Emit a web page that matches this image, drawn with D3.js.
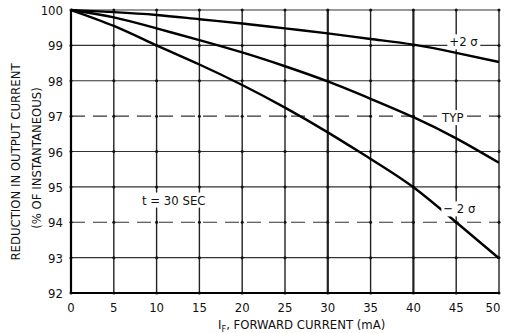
<!DOCTYPE html>
<html>
<head>
<meta charset="utf-8">
<script src="https://cdn.jsdelivr.net/npm/d3@7"></script>
<style>
  html, body { margin: 0; padding: 0; background: #fff; }
  text { font-family: "Liberation Sans Narrow", "DejaVu Sans Condensed", "Roboto Condensed", sans-serif; fill: #111; }
</style>
</head>
<body>
<div id="canvas"></div>
<script>
// forward current (mA)
const current = [0, 5, 10, 15, 20, 25, 30, 35, 40, 45, 50];
// reduction in output current (% of instantaneous)
const plus2Sigma  = [100, 99.94, 99.86, 99.74, 99.62, 99.48, 99.34, 99.18, 99.02, 98.79, 98.53];
const typical     = [100, 99.79, 99.48, 99.15, 98.80, 98.41, 97.98, 97.49, 96.97, 96.37, 95.68];
const minus2Sigma = [100, 99.55, 99.00, 98.46, 97.88, 97.24, 96.54, 95.79, 94.99, 94.00, 92.98];

const xTicks = [0, 5, 10, 15, 20, 25, 30, 35, 40, 45, 50];
const yTicks = [92, 93, 94, 95, 96, 97, 98, 99, 100];
const dashedRows = [97, 94];
const heavyCols = [30, 40];

const W = 505, H = 333;
const margin = {top: 10, right: 6, bottom: 40, left: 71};
const width = W - margin.left - margin.right;
const height = H - margin.top - margin.bottom;

const svg = d3.select("#canvas").append("svg")
    .attr("width", W)
    .attr("height", H);

const g = svg.append("g")
    .attr("transform", "translate(" + margin.left + "," + margin.top + ")");

const x = d3.scaleLinear().domain([0, 50]).range([0, width]);
const y = d3.scaleLinear().domain([92, 100]).range([height, 0]);

// horizontal grid
g.append("g").selectAll("line")
    .data(yTicks.filter(d => d > 92))
    .enter().append("line")
    .attr("x1", 0).attr("x2", width)
    .attr("y1", d => y(d)).attr("y2", d => y(d))
    .attr("stroke", "#333")
    .attr("stroke-width", 1.1)
    .attr("stroke-dasharray", d => dashedRows.includes(d) ? "14,8" : null);

// vertical grid
g.append("g").selectAll("line")
    .data(xTicks.filter(d => d > 0))
    .enter().append("line")
    .attr("x1", d => x(d)).attr("x2", d => x(d))
    .attr("y1", 0).attr("y2", height)
    .attr("stroke", "#222")
    .attr("stroke-width", d => heavyCols.includes(d) ? 2.2 : 1.4);

// little dots at grid crossings
const crossings = [];
xTicks.forEach(a => yTicks.forEach(b => crossings.push([a, b])));
g.append("g").selectAll("circle")
    .data(crossings)
    .enter().append("circle")
    .attr("cx", d => x(d[0]))
    .attr("cy", d => y(d[1]))
    .attr("r", 1.5)
    .attr("fill", "#111");

// axes (left / bottom heavy)
g.append("line")
    .attr("x1", 0).attr("x2", 0).attr("y1", 0).attr("y2", height)
    .attr("stroke", "#000").attr("stroke-width", 2.2);
g.append("line")
    .attr("x1", 0).attr("x2", width).attr("y1", height).attr("y2", height)
    .attr("stroke", "#000").attr("stroke-width", 2.2);

// curves
const line = d3.line()
    .x(d => x(d[0]))
    .y(d => y(d[1]))
    .curve(d3.curveNatural);

[plus2Sigma, typical, minus2Sigma].forEach(series => {
    g.append("path")
        .datum(current.map((c, i) => [c, series[i]]))
        .attr("fill", "none")
        .attr("stroke", "#000")
        .attr("stroke-width", 2.4)
        .attr("d", line);
});

// tick labels
g.append("g").selectAll("text")
    .data(yTicks)
    .enter().append("text")
    .attr("x", -8)
    .attr("y", d => y(d) + 5)
    .attr("text-anchor", "end")
    .attr("font-size", "13px")
    .text(d => d);

g.append("g").selectAll("text")
    .data(xTicks)
    .enter().append("text")
    .attr("x", d => x(d) - (d === 50 ? 6 : 0))
    .attr("y", height + 19)
    .attr("text-anchor", "middle")
    .attr("font-size", "13px")
    .text(d => d);

// labels on the curves
function label(txt, cx, cy, anchor) {
    let t = g.append("text")
        .attr("x", cx).attr("y", cy)
        .attr("text-anchor", anchor)
        .attr("font-size", "13px")
        .text(txt);
    let bb = t.node().getBBox();
    g.insert("rect", function() { return t.node(); })
        .attr("x", bb.x - 2).attr("y", bb.y)
        .attr("width", bb.width + 4).attr("height", bb.height)
        .attr("fill", "#fff");
    return t;
}
label("+2 \u03C3", x(44.2), y(99) + 1, "start");
label("TYP", x(44.6), y(97) + 6, "middle");
label("\u2212 2 \u03C3", x(43.5), y(94.25), "start");
label("t  =  30 SEC", x(8.3), y(94.5), "start");

// axis titles
const xt = svg.append("text")
    .attr("x", 218)
    .attr("y", 329)
    .attr("font-size", "13px");
xt.append("tspan").text("I");
xt.append("tspan").attr("font-size", "9px").attr("dy", 3).text("F");
xt.append("tspan").attr("dy", -3).text(", FORWARD CURRENT (mA)");

svg.append("text")
    .attr("transform", "translate(20,162) rotate(-90)")
    .attr("text-anchor", "middle")
    .attr("font-size", "13px")
    .text("REDUCTION IN OUTPUT CURRENT");
svg.append("text")
    .attr("transform", "translate(41,158) rotate(-90)")
    .attr("text-anchor", "middle")
    .attr("font-size", "13px")
    .text("(% OF INSTANTANEOUS)");
</script>
</body>
</html>
